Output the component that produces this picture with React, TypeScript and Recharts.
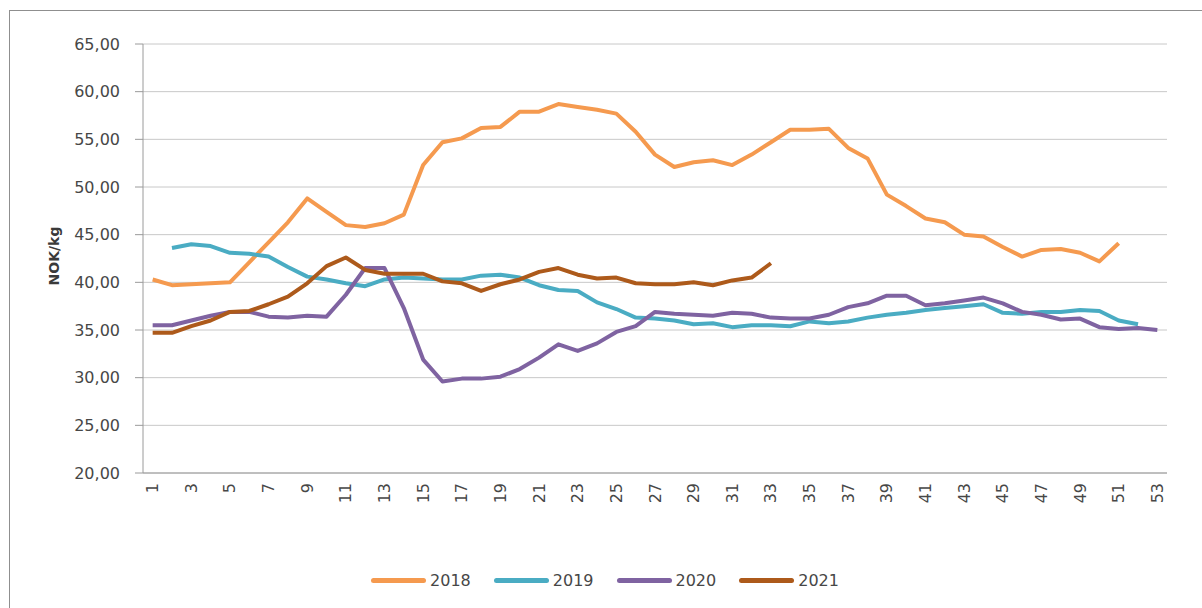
import { LineChart, Line, XAxis, YAxis, CartesianGrid, Legend } from 'recharts'

// week numbers on the category axis
const weeks = [
    1, 2, 3, 4, 5, 6, 7, 8, 9, 10, 11, 12, 13, 14, 15, 16, 17, 18, 19, 20,
    21, 22, 23, 24, 25, 26, 27, 28, 29, 30, 31, 32, 33, 34, 35, 36, 37, 38, 39, 40,
    41, 42, 43, 44, 45, 46, 47, 48, 49, 50, 51, 52, 53,
]

const price2018 = [
    40.3, 39.7, 39.8, 39.9, 40.0, 42.1, 44.2, 46.3, 48.8, 47.4,
    46.0, 45.8, 46.2, 47.1, 52.3, 54.7, 55.1, 56.2, 56.3, 57.9,
    57.9, 58.7, 58.4, 58.1, 57.7, 55.8, 53.4, 52.1, 52.6, 52.8,
    52.3, 53.4, 54.7, 56.0, 56.0, 56.1, 54.1, 53.0, 49.2, 48.0,
    46.7, 46.3, 45.0, 44.8, 43.7, 42.7, 43.4, 43.5, 43.1, 42.2,
    44.1, null, null,
]

const price2019 = [
    null, 43.6, 44.0, 43.8, 43.1, 43.0, 42.7, 41.6, 40.6, 40.3,
    39.9, 39.6, 40.3, 40.5, 40.4, 40.3, 40.3, 40.7, 40.8, 40.5,
    39.7, 39.2, 39.1, 37.9, 37.2, 36.3, 36.2, 36.0, 35.6, 35.7,
    35.3, 35.5, 35.5, 35.4, 35.9, 35.7, 35.9, 36.3, 36.6, 36.8,
    37.1, 37.3, 37.5, 37.7, 36.8, 36.7, 36.9, 36.9, 37.1, 37.0,
    36.0, 35.6, null,
]

const price2020 = [
    35.5, 35.5, 36.0, 36.5, 36.9, 36.9, 36.4, 36.3, 36.5, 36.4,
    38.7, 41.5, 41.5, 37.3, 31.9, 29.6, 29.9, 29.9, 30.1, 30.9,
    32.1, 33.5, 32.8, 33.6, 34.8, 35.4, 36.9, 36.7, 36.6, 36.5,
    36.8, 36.7, 36.3, 36.2, 36.2, 36.6, 37.4, 37.8, 38.6, 38.6,
    37.6, 37.8, 38.1, 38.4, 37.8, 36.9, 36.6, 36.1, 36.2, 35.3,
    35.1, 35.2, 35.0,
]

const price2021 = [
    34.7, 34.7, 35.4, 36.0, 36.9, 37.0, 37.7, 38.5, 39.9, 41.7,
    42.6, 41.3, 40.9, 40.9, 40.9, 40.1, 39.9, 39.1, 39.8, 40.3,
    41.1, 41.5, 40.8, 40.4, 40.5, 39.9, 39.8, 39.8, 40.0, 39.7,
    40.2, 40.5, 42.0, null, null, null, null, null, null, null,
    null, null, null, null, null, null, null, null, null, null,
    null, null, null,
]

const yTicks = [20, 25, 30, 35, 40, 45, 50, 55, 60, 65]

const years = ['2018', '2019', '2020', '2021']
const colors = ['#f59a4f', '#4aacc3', '#7f63a1', '#ad5a1b']

const data = weeks.map((week, i) => ({
    week,
    '2018': price2018[i],
    '2019': price2019[i],
    '2020': price2020[i],
    '2021': price2021[i],
}))

const font = '"DejaVu Sans", sans-serif'
const textColor = '#474747'

function WeekTick({ x, y, payload }: any) {
    return (
        <text
            x={x}
            y={y + 8}
            transform={`rotate(-90, ${x}, ${y + 8})`}
            textAnchor="end"
            dominantBaseline="central"
            fontSize={16}
            fontFamily={font}
            fill={textColor}
        >
            {payload.value}
        </text>
    )
}

function AxisTitle({ viewBox }: any) {
    const cx = viewBox.x + 54
    const cy = 256
    return (
        <text
            x={cx}
            y={cy}
            transform={`rotate(-90, ${cx}, ${cy})`}
            textAnchor="middle"
            dominantBaseline="central"
            fontSize={14}
            fontWeight="bold"
            fontFamily={font}
            fill="#3a3a3a"
        >
            NOK/kg
        </text>
    )
}

function YearLegend({ payload }: any) {
    return (
        <div
            style={{
                display: 'flex',
                justifyContent: 'center',
                alignItems: 'center',
                gap: 23,
                height: 24,
                fontFamily: font,
                fontSize: 16,
                color: textColor,
            }}
        >
            {(payload || []).map((entry: any) => (
                <div key={entry.value} style={{ display: 'flex', alignItems: 'center' }}>
                    <span
                        style={{
                            display: 'inline-block',
                            width: 55,
                            height: 5,
                            borderRadius: 3,
                            background: entry.color,
                            marginRight: 4,
                        }}
                    />
                    <span>{entry.value}</span>
                </div>
            ))}
        </div>
    )
}

export default function App() {
    return (
        <div style={{ position: 'relative', width: 1202, height: 608, overflow: 'hidden', background: '#fff' }}>
            <style>{'body{margin:0;overflow:hidden}'}</style>
            <div
                style={{
                    position: 'absolute',
                    left: 9,
                    top: 10,
                    width: 1300,
                    height: 700,
                    border: '1px solid #8f8f8f',
                }}
            />
            <div style={{ position: 'absolute', left: 0, top: 0 }}>
                <LineChart
                    width={1202}
                    height={608}
                    data={data}
                    margin={{ top: 44, right: 35, left: 0, bottom: 61 }}
                >
                    <CartesianGrid vertical={false} stroke="#c8c8c8" />
                    <XAxis
                        dataKey="week"
                        interval={1}
                        tick={<WeekTick />}
                        tickLine={false}
                        tickSize={0}
                        axisLine={{ stroke: '#9a9a9a' }}
                        padding={{ left: 9.66, right: 9.66 }}
                        height={50}
                    />
                    <YAxis
                        width={143}
                        domain={[20, 65]}
                        ticks={yTicks}
                        tickFormatter={(v: number) => v.toFixed(2).replace('.', ',')}
                        tick={{ fill: textColor, fontSize: 16, fontFamily: font }}
                        tickSize={8}
                        tickMargin={15}
                        tickLine={{ stroke: '#9a9a9a' }}
                        axisLine={{ stroke: '#9a9a9a' }}
                        label={AxisTitle}
                    />
                    <Legend
                        content={<YearLegend />}
                        wrapperStyle={{ top: 568, left: 4, width: 1202 }}
                    />
                    {years.map((year, i) => (
                        <Line
                            key={year}
                            type="linear"
                            dataKey={year}
                            stroke={colors[i]}
                            strokeWidth={4}
                            strokeLinejoin="round"
                            dot={false}
                            activeDot={false}
                            isAnimationActive={false}
                        />
                    ))}
                </LineChart>
            </div>
        </div>
    )
}
